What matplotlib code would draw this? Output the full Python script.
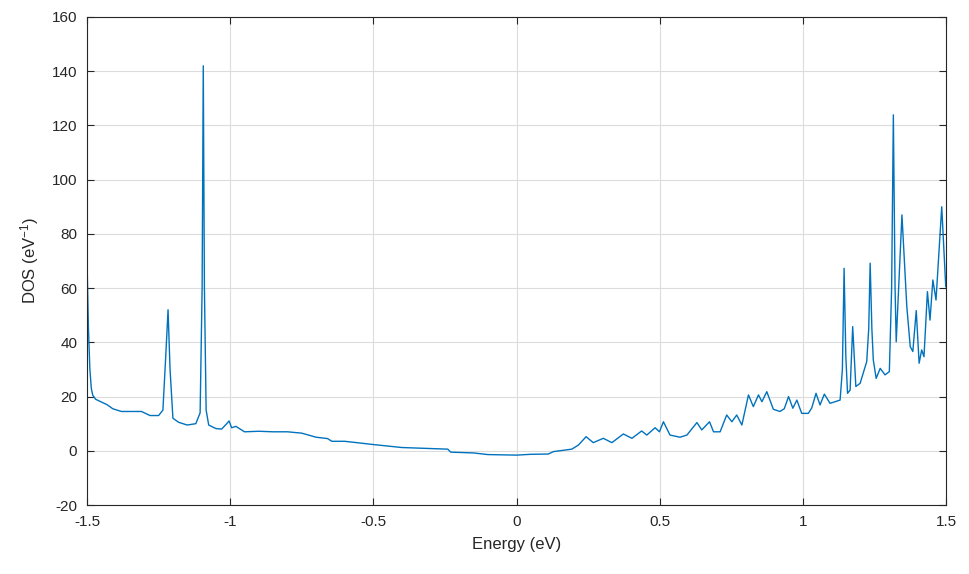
import matplotlib
matplotlib.use("Agg")
import matplotlib.pyplot as plt

# Energy grid points (eV) and DOS values (1/eV)
energy = [
    -1.500, -1.495, -1.490, -1.485, -1.480, -1.470, -1.450, -1.430, -1.410, -1.380,
    -1.340, -1.310, -1.280, -1.250, -1.235, -1.225, -1.217, -1.210, -1.200, -1.180,
    -1.150, -1.120, -1.105, -1.098, -1.094, -1.090, -1.084, -1.075, -1.050, -1.030,
    -1.012, -1.004, -0.995, -0.980, -0.965, -0.950, -0.900, -0.850, -0.800, -0.750,
    -0.700, -0.660, -0.645, -0.600, -0.500, -0.400, -0.300, -0.240, -0.230, -0.150,
    -0.100, -0.058, 0.000, 0.050, 0.111, 0.129, 0.193, 0.216, 0.243, 0.268,
    0.303, 0.333, 0.373, 0.403, 0.437, 0.455, 0.484, 0.499, 0.513, 0.536,
    0.571, 0.595, 0.630, 0.647, 0.674, 0.688, 0.711, 0.734, 0.752, 0.769,
    0.787, 0.810, 0.827, 0.845, 0.857, 0.874, 0.897, 0.920, 0.935, 0.950,
    0.965, 0.979, 0.996, 1.019, 1.031, 1.046, 1.060, 1.075, 1.095, 1.130,
    1.138, 1.144, 1.150, 1.156, 1.165, 1.174, 1.185, 1.200, 1.223, 1.230,
    1.235, 1.241, 1.246, 1.256, 1.270, 1.287, 1.302, 1.310, 1.316, 1.322,
    1.326, 1.346, 1.363, 1.375, 1.384, 1.396, 1.406, 1.415, 1.423, 1.435,
    1.444, 1.454, 1.465, 1.485, 1.499,
]
dos = [
    70.0, 45.0, 30.0, 23.0, 20.5, 19.0, 18.0, 17.0, 15.5, 14.5,
    14.5, 14.5, 13.0, 13.0, 15.0, 35.0, 52.0, 30.0, 12.0, 10.5,
    9.5, 10.0, 14.0, 60.0, 142.0, 60.0, 15.0, 9.5, 8.2, 8.0,
    10.0, 11.0, 8.5, 9.0, 8.0, 7.0, 7.2, 7.0, 7.0, 6.5,
    5.0, 4.5, 3.5, 3.5, 2.3, 1.2, 0.8, 0.6, -0.5, -0.8,
    -1.4, -1.5, -1.6, -1.3, -1.2, -0.3, 0.6, 2.1, 5.2, 3.0,
    4.6, 3.0, 6.2, 4.6, 7.3, 5.8, 8.5, 7.0, 10.7, 5.8,
    5.0, 5.8, 10.4, 7.7, 10.7, 7.0, 7.0, 13.2, 10.7, 13.2,
    9.5, 20.6, 16.3, 20.6, 18.1, 21.8, 15.3, 14.5, 15.5, 20.0,
    15.7, 18.7, 13.8, 13.8, 15.8, 21.2, 16.9, 20.9, 17.5, 18.7,
    30.0, 67.3, 35.0, 21.2, 22.4, 45.8, 23.7, 24.9, 32.9, 45.0,
    69.2, 45.0, 33.5, 26.7, 30.4, 28.0, 29.2, 60.0, 123.9, 60.0,
    40.2, 87.0, 53.2, 38.4, 36.6, 51.7, 32.3, 37.2, 34.7, 58.7,
    48.2, 63.0, 55.6, 90.0, 60.5,
]

x_ticks = [-1.5, -1, -0.5, 0, 0.5, 1, 1.5]
x_tick_labels = ["-1.5", "-1", "-0.5", "0", "0.5", "1", "1.5"]
y_ticks = [-20, 0, 20, 40, 60, 80, 100, 120, 140, 160]

plt.rcParams["font.family"] = ["Liberation Sans", "DejaVu Sans"]
plt.rcParams["mathtext.default"] = "regular"
plt.rcParams["axes.unicode_minus"] = False

fig = plt.figure(figsize=(9.69, 5.74), dpi=100)
ax = fig.add_axes([0.0898, 0.1202, 0.8865, 0.8502])

ax.plot(energy, dos, color="#0072BD", linewidth=1.0)

ax.set_xlim(-1.5, 1.5)
ax.set_ylim(-20, 160)
ax.set_xticks(x_ticks)
ax.set_xticklabels(x_tick_labels)
ax.set_yticks(y_ticks)

ax.grid(True, color="#dcdcdc", linewidth=0.8)
ax.set_axisbelow(True)
ax.tick_params(direction="in", length=5, width=0.8, top=True, right=True,
               labelsize=11, colors="#262626", pad=7)
for spine in ax.spines.values():
    spine.set_color("#262626")
    spine.set_linewidth(0.8)

ax.set_xlabel("Energy (eV)", fontsize=12, color="#262626", labelpad=6)
ax.set_ylabel("DOS (eV$^{-1}$)", fontsize=12, color="#262626", labelpad=8)

fig.savefig("out.png", dpi=100)
print("Saved out.png")
